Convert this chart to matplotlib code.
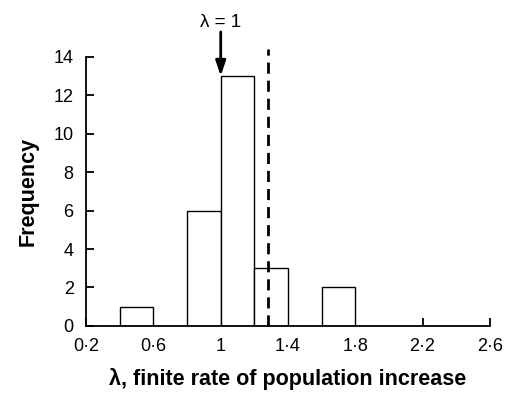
import matplotlib
matplotlib.use("Agg")
import matplotlib.pyplot as plt

plt.rcParams["font.family"] = ["Liberation Sans", "DejaVu Sans"]

bin_left = [0.4, 0.8, 1.0, 1.2, 1.6]
counts = [1, 6, 13, 3, 2]
bin_width = 0.2
mean_lambda = 1.28
xticks = [0.2, 0.6, 1.0, 1.4, 1.8, 2.2, 2.6]
xtick_labels = ["0·2", "0·6", "1", "1·4", "1·8", "2·2", "2·6"]
yticks = [0, 2, 4, 6, 8, 10, 12, 14]

fig = plt.figure(figsize=(5.07, 3.95), dpi=100)
ax = fig.add_axes([0.170, 0.175, 0.796, 0.681])

ax.bar(bin_left, counts, width=bin_width, align="edge",
       facecolor="white", edgecolor="black", linewidth=1.0, zorder=2)

ax.plot([mean_lambda, mean_lambda], [0, 14.4], color="black",
        linestyle=(0, (4, 2.5)), linewidth=2, clip_on=False, zorder=3)

ax.annotate("", xy=(1.0, 13), xytext=(1.0, 15.3),
            arrowprops=dict(arrowstyle="-|>,head_width=0.3,head_length=0.9",
                            color="black", lw=2, shrinkA=0, shrinkB=0),
            annotation_clip=False)
ax.text(1.0, 15.35, "λ = 1", ha="center", va="bottom", fontsize=13.5)

ax.set_xlim(0.2, 2.6)
ax.set_ylim(0, 14)
ax.set_xticks(xticks)
ax.set_xticklabels(xtick_labels)
ax.set_yticks(yticks)
ax.tick_params(direction="in", length=6, width=1.3, labelsize=13, pad=9)

for s in ["top", "right"]:
    ax.spines[s].set_visible(False)
for s in ["left", "bottom"]:
    ax.spines[s].set_linewidth(1.3)

ax.set_xlabel("λ, finite rate of population increase", fontsize=15.5,
              fontweight="bold", labelpad=9)
ax.set_ylabel("Frequency", fontsize=15.5, fontweight="bold", labelpad=11)

plt.savefig("out.png", dpi=100)
